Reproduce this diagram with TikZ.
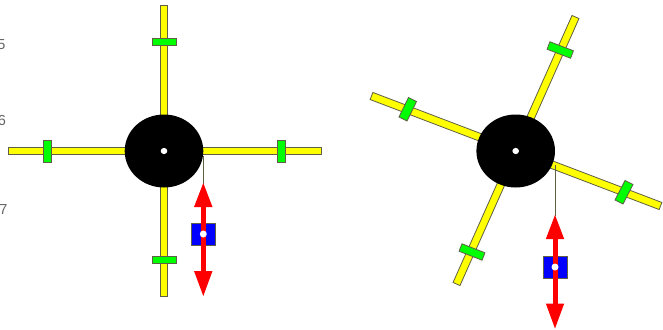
\documentclass[tikz,border=0pt]{standalone}
\usepackage{fontspec}
\setmainfont{Liberation Sans}
\usetikzlibrary{calc}
\definecolor{edgegray}{RGB}{95,95,70}
\definecolor{lblgray}{RGB}{100,100,100}
\definecolor{armyellow}{RGB}{255,255,0}
\definecolor{tabgreen}{RGB}{0,255,0}
\definecolor{boxblue}{RGB}{0,0,255}
\definecolor{arrowred}{RGB}{255,0,0}
\tikzset{
  hub/.style={fill=black,draw=none},
  pin/.style={fill=white,draw=none},
  wire/.style={draw=edgegray,line width=0.8pt},
  sliderbox/.style={fill=boxblue,draw=edgegray,line width=0.6pt},
  redshaft/.style={draw=arrowred,line width=5pt},
  redhead/.style={fill=arrowred,draw=none},
  scalelabel/.style={text=lblgray,font=\fontsize{14.5}{14.5}\selectfont,inner sep=0pt,anchor=center}
}
% bar from #1 to #2 with half-width #3, fill #4
\newcommand{\barshape}[4]{%
  \draw[draw=edgegray,line width=0.8pt,fill=#4]
    ($#1!#3pt!90:#2$) -- ($#2!#3pt!-90:#1$) -- ($#2!#3pt!90:#1$) -- ($#1!#3pt!-90:#2$) -- cycle;
}
\begin{document}
\begin{tikzpicture}[x=1pt,y=-1pt]
\useasboundingbox (0,0) rectangle (663,329);
% scale fragments
\begin{scope}
\clip (0,0) rectangle (663,329);
\node[scalelabel] (lfive) at (1.5,45) {5};
\node[scalelabel] (lsix) at (2,121) {6};
\node[scalelabel] (lseven) at (3.5,210) {7};
\end{scope}
% left assembly
\coordinate (LC) at (164,151);
\barshape{(164,5.5)}{(164,296)}{3.8}{armyellow}
\barshape{(8,151)}{(321,151)}{3.8}{armyellow}
\barshape{(152.5,42)}{(176,42)}{3.7}{tabgreen}
\barshape{(152.5,260)}{(176,260)}{3.7}{tabgreen}
\barshape{(47,140)}{(47,162)}{4}{tabgreen}
\barshape{(281.5,140)}{(281.5,162)}{4}{tabgreen}
\path[hub] (LC) ellipse [x radius=39.3,y radius=36.5];
\path[pin] (LC) ellipse [x radius=3.3,y radius=3.1];
\coordinate (LW0) at (203.3,156);
\coordinate (LW1) at (203.3,184);
\coordinate (LB) at (203.3,234);
\draw[wire] (LW0) -- (LW1);
\draw[sliderbox] (191.5,223.5) rectangle (215,245);
\draw[redshaft] (203.3,205) -- (203.3,275);
\path[redhead] (203.3,183) -- (212.5,207) -- (194,207) -- cycle;
\path[redhead] (203.3,296) -- (212.5,271) -- (194,271) -- cycle;
\path[pin] (LB) circle [radius=3.5];
% right assembly
\coordinate (RC) at (515.7,151);
\barshape{(575.5,17)}{(456.5,284)}{3.8}{armyellow}
\barshape{(371.5,96)}{(660.5,206)}{3.8}{armyellow}
\barshape{(548.5,45.5)}{(572,54.5)}{4}{tabgreen}
\barshape{(460.5,247.5)}{(483.5,256.5)}{4}{tabgreen}
\barshape{(412.5,99.5)}{(403,119)}{4.5}{tabgreen}
\barshape{(629,182.5)}{(619,202)}{4.5}{tabgreen}
\path[hub] (RC) ellipse [x radius=39.3,y radius=36.5];
\path[pin] (RC) ellipse [x radius=3.3,y radius=3.1];
\coordinate (RW0) at (555,165);
\coordinate (RW1) at (555,216);
\coordinate (RB) at (555,267);
\draw[wire] (RW0) -- (RW1);
\draw[sliderbox] (543.3,256) rectangle (567,278);
\draw[redshaft] (555,236) -- (555,306);
\path[redhead] (555,215) -- (564.2,239) -- (545.8,239) -- cycle;
\path[redhead] (555,328.5) -- (564.2,303.5) -- (545.8,303.5) -- cycle;
\path[pin] (RB) circle [radius=3.5];
\end{tikzpicture}
\end{document}
